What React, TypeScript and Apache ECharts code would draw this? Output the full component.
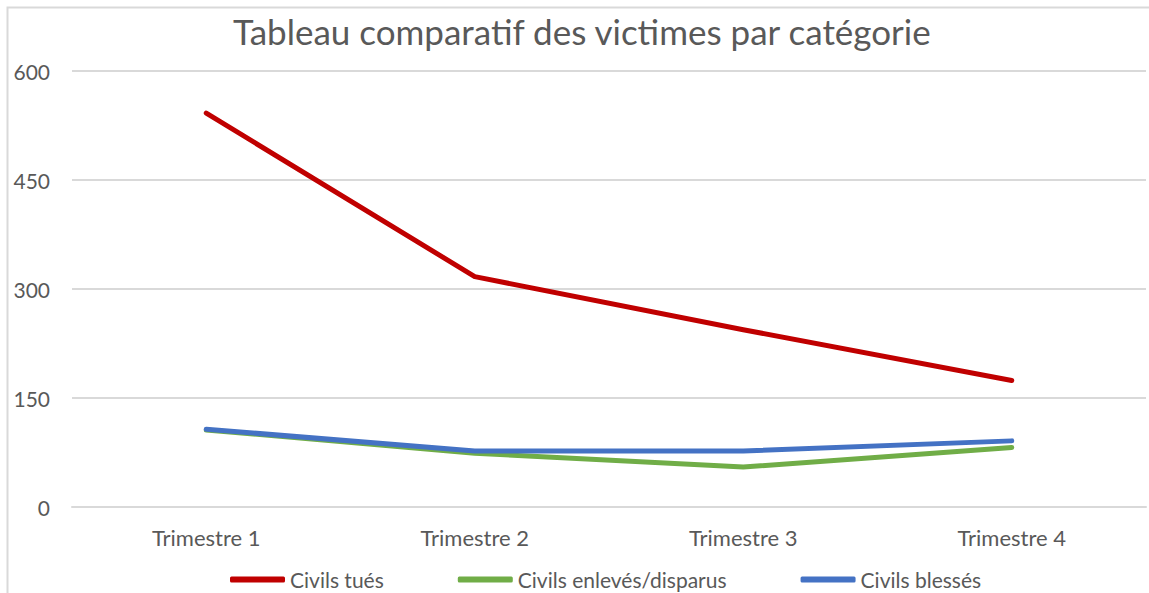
import React, { useEffect, useRef } from "react";
import * as echarts from "echarts";

const categories = ["Trimestre 1", "Trimestre 2", "Trimestre 3", "Trimestre 4"];
const civilsTues = [542, 317, 244, 174];
const civilsEnleves = [106, 74, 55, 82];
const civilsBlesses = [107, 77, 77, 91];
const yTicks = [0, 150, 300, 450, 600];

const FONT = "Lato, 'Open Sans', sans-serif";
const TXT = "#595959";

export default function App() {
  const ref = useRef<HTMLDivElement>(null);
  useEffect(() => {
    if (!ref.current) return;
    const chart = echarts.init(ref.current, null, { renderer: "svg" });
    const mkSeries = (name: string, data: number[], color: string) => ({
      name,
      type: "line",
      data,
      symbol: "none",
      lineStyle: { width: 5, color, cap: "round", join: "round" },
      itemStyle: { color },
    });
    chart.setOption({
      animation: false,
      backgroundColor: "#ffffff",
      textStyle: { fontFamily: FONT },
      title: {
        text: "Tableau comparatif des victimes par catégorie",
        left: 233,
        top: 13,
        padding: 0,
        textStyle: { fontFamily: FONT, fontSize: 35, fontWeight: "normal", color: TXT },
      },
      graphic: [
        {
          type: "rect",
          shape: { x: 7.5, y: 7.5, width: 1160, height: 600 },
          style: { fill: "none", stroke: "#d9d9d9", lineWidth: 2 },
          silent: true,
        },
      ],
      legend: {
        top: 564,
        left: 225,
        itemWidth: 55,
        itemHeight: 6,
        itemGap: 74,
        icon: "roundRect",
        textStyle: { fontFamily: FONT, fontSize: 21, color: TXT },
        data: ["Civils tués", "Civils enlevés/disparus", "Civils blessés"],
      },
      grid: { left: 72, right: 3, top: 71, bottom: 86 },
      xAxis: {
        type: "category",
        data: categories,
        boundaryGap: true,
        axisLine: { show: true, lineStyle: { color: "#d9d9d9", width: 2 } },
        axisTick: { show: false },
        axisLabel: { color: TXT, fontSize: 22, fontFamily: FONT, margin: 19 },
      },
      yAxis: {
        type: "value",
        min: yTicks[0],
        max: yTicks[yTicks.length - 1],
        interval: 150,
        axisLine: { show: false },
        axisTick: { show: false },
        splitLine: { lineStyle: { color: "#d9d9d9", width: 2 } },
        axisLabel: { color: TXT, fontSize: 21, fontFamily: FONT, margin: 22 },
      },
      series: [
        mkSeries("Civils tués", civilsTues, "#c00000"),
        mkSeries("Civils enlevés/disparus", civilsEnleves, "#70ad47"),
        mkSeries("Civils blessés", civilsBlesses, "#4472c4"),
      ],
    });
    return () => chart.dispose();
  }, []);
  return (
    <div
      ref={ref}
      style={{ position: "fixed", left: 0, top: 0, width: 1149, height: 593 }}
    />
  );
}
